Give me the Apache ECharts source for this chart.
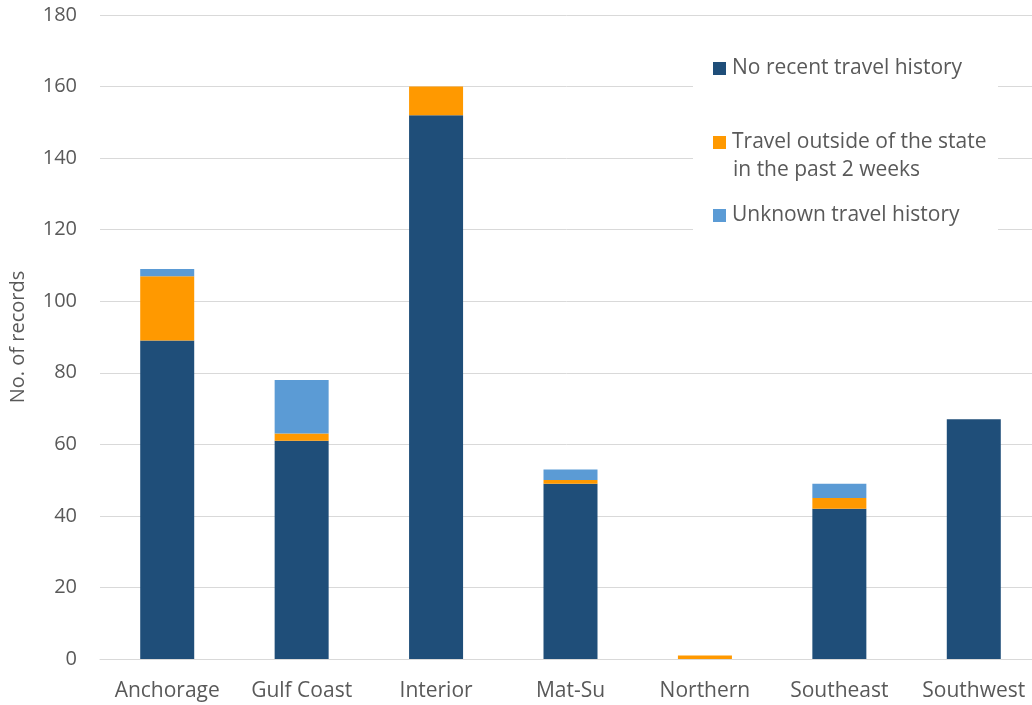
<!DOCTYPE html>
<html>
<head>
<meta charset="utf-8">
<script src="https://cdn.jsdelivr.net/npm/echarts@6/dist/echarts.min.js"></script>
<style>
  html, body { margin: 0; padding: 0; background: #ffffff; }
  #chart { width: 1032px; height: 705px; }
</style>
</head>
<body>
<div id="chart"></div>
<script>
// Records by region, split by travel history
const regions = ['Anchorage', 'Gulf Coast', 'Interior', 'Mat-Su', 'Northern', 'Southeast', 'Southwest'];
const noRecentTravel   = [89, 61, 152, 49, 0, 42, 67];
const travelOutOfState = [18, 2, 8, 1, 1, 3, 0];
const unknownTravel    = [2, 15, 0, 3, 0, 4, 0];
const seriesNames = [
  'No recent travel history',
  'Travel outside of the state in the past 2 weeks',
  'Unknown travel history'
];
const yTicks = { min: 0, max: 180, interval: 20 };

const FONT = '"Open Sans", "DejaVu Sans", sans-serif';
const TEXT = '#595959';
const GRID_LINE = '#D9D9D9';
const COLORS = ['#1F4E79', '#FF9900', '#5B9BD5'];

const chart = echarts.init(document.getElementById('chart'), null, { renderer: 'canvas' });

const legendBase = {
  orient: 'vertical',
  left: 713,
  padding: 0,
  itemWidth: 13,
  itemHeight: 13,
  icon: 'rect',
  selectedMode: false,
  textStyle: { color: TEXT, fontFamily: FONT, fontSize: 21, lineHeight: 21, padding: [0, 0, 0, 1] }
};

chart.setOption({
  backgroundColor: '#ffffff',
  animation: false,
  color: COLORS,
  textStyle: { fontFamily: FONT },
  // the plot area runs slightly past the right edge of the canvas
  grid: { left: 100, top: 15, width: 941, bottom: 46, containLabel: false, outerBoundsMode: 'none' },
  xAxis: {
    type: 'category',
    data: regions,
    axisTick: { show: false },
    axisLine: { show: true, lineStyle: { color: GRID_LINE, width: 1 } },
    axisLabel: { color: TEXT, fontFamily: FONT, fontSize: 21, margin: 22, interval: 0 }
  },
  yAxis: {
    type: 'value',
    min: yTicks.min,
    max: yTicks.max,
    interval: yTicks.interval,
    name: 'No. of records',
    nameLocation: 'middle',
    nameRotate: 90,
    nameGap: 72,
    nameTextStyle: { color: TEXT, fontFamily: FONT, fontSize: 20 },
    axisLine: { show: false },
    axisTick: { show: false },
    axisLabel: { color: TEXT, fontFamily: FONT, fontSize: 20, margin: 23 },
    splitLine: { show: true, lineStyle: { color: GRID_LINE, width: 1 } }
  },
  legend: [
    Object.assign({}, legendBase, { top: 58, data: [seriesNames[0]] }),
    Object.assign({}, legendBase, { top: 132, data: [seriesNames[1]],
      formatter: () => 'Travel outside of the state' }),
    Object.assign({}, legendBase, { top: 205, data: [seriesNames[2]] })
  ],
  graphic: [
    {
      type: 'rect', z: 3, silent: true,
      shape: { x: 693, y: 40, width: 305, height: 200 },
      style: { fill: '#ffffff' }
    },
    {
      type: 'text', z: 5, silent: true,
      left: 733, top: 160,
      style: { text: 'in the past 2 weeks', fill: TEXT, font: '21px ' + FONT }
    }
  ],
  series: [
    { name: seriesNames[0], type: 'bar', stack: 'total', barWidth: 54, data: noRecentTravel },
    { name: seriesNames[1], type: 'bar', stack: 'total', barWidth: 54, data: travelOutOfState },
    { name: seriesNames[2], type: 'bar', stack: 'total', barWidth: 54, data: unknownTravel }
  ]
});
</script>
</body>
</html>
